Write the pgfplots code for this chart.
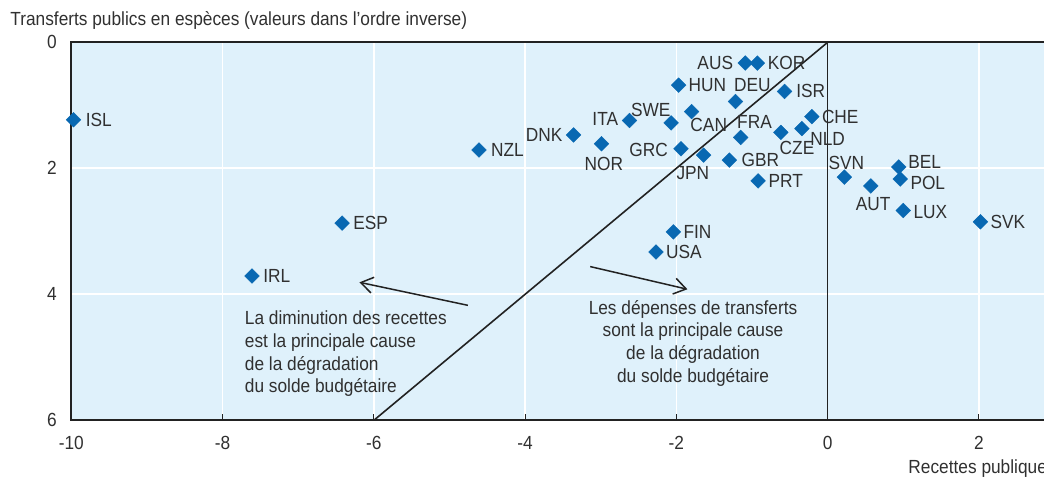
\documentclass[border=0pt]{standalone}
\usepackage{fontspec}
\setmainfont{Liberation Sans}[FakeStretch=0.91]
\usepackage{pgfplots}
\pgfplotsset{compat=1.18}
\usepackage{pgfplotstable}
\usetikzlibrary{arrows.meta}

\definecolor{bgblue}{HTML}{DFF1FB}
\definecolor{oecdblue}{HTML}{0868B2}
\definecolor{txt}{HTML}{303030}
\definecolor{axdark}{HTML}{222222}
\newcommand\lab{\fontsize{9.5}{11.3}\selectfont}

% x = recettes, y = transferts (reversed)
% anc = label anchor angle (180 west, 0 east, 90 north, 270 south), dx dy in pt
\pgfplotstableread{
x y lbl anc dx dy
-9.97 1.23 ISL 180 6 0
-4.61 1.71 NZL 180 6 0
-3.36 1.47 DNK 0 -5.5 0
-2.99 1.61 NOR 90 1.2 -6.5
-2.62 1.24 ITA 0 -5.6 0.8
-2.07 1.28 SWE 270 -10.2 2.8
-1.97 0.68 HUN 180 4.9 0
-1.80 1.10 CAN 90 8.6 -3.1
-1.94 1.69 GRC 0 -6.5 -0.5
-1.64 1.79 JPN 90 -5.4 -5.5
-1.09 0.33 AUS 0 -6 0
-0.93 0.33 KOR 180 5.2 0
-1.22 0.94 DEU 270 8.5 4.8
-1.15 1.51 FRA 270 6.9 4.6
-1.30 1.87 GBR 180 6 0
-0.92 2.20 PRT 180 5.2 0
-0.57 0.78 ISR 180 5.8 0
-0.62 1.43 CZE 90 8.1 -4.5
-0.21 1.18 CHE 180 5 0
-0.34 1.37 NLD 90 12.8 -1.7
0.22 2.14 SVN 270 1 3.6
0.57 2.28 AUT 90 1.2 -5.5
0.94 1.98 BEL 180 4.7 2.3
0.96 2.17 POL 180 5 -2
1.00 2.67 LUX 180 5 -0.8
2.02 2.85 SVK 180 5 0
-6.42 2.87 ESP 180 5.5 0
-7.61 3.71 IRL 180 5.5 0
-2.04 3.01 FIN 180 5 0
-2.27 3.33 USA 180 5 0
}\pts

\begin{document}
\begin{tikzpicture}
\begin{axis}[
  name=ax, scale only axis,
  width=486.35pt, height=189pt,
  xmin=-10, xmax=2.86, ymin=0, ymax=6, y dir=reverse,
  xtick={-10,-8,-6,-4,-2,0,2}, ytick={0,2,4,6},
  grid=major, major grid style={white, line width=0.8pt},
  axis background/.style={fill=bgblue},
  axis line style={draw=none},
  xtick pos=bottom, ytick pos=left,
  xtick align=inside, major tick length=3pt,
  x tick style={draw=axdark, line width=0.5pt},
  y tick style={draw=none},
  tick label style={font=\lab, text=txt},
  xticklabel style={yshift=-4.5pt},
  yticklabel style={xshift=-3.8pt},
  /pgf/number format/assume math mode=true,
  clip=false,
]
\draw[axdark, line width=0.9pt] (rel axis cs:1,0) -- (rel axis cs:0,0) -- (rel axis cs:0,1) -- (rel axis cs:1,1);

\addplot[axdark, line width=0.8pt] coordinates {(-6,6) (0,0)};
\addplot[axdark, line width=0.8pt] coordinates {(0,0) (0,6)};

\addplot[axdark, line width=0.75pt, -{Straight Barb[length=6pt,width=8pt]}] coordinates {(-4.757,4.175) (-6.19,3.81)};
\addplot[axdark, line width=0.75pt, -{Straight Barb[length=6pt,width=8pt]}] coordinates {(-3.14,3.56) (-1.854,3.92)};

\addplot[oecdblue, only marks, mark=square*, mark size=2.6pt,
  mark options={rotate=45, fill=oecdblue, draw=oecdblue, line width=0.2pt},
  point meta=explicit symbolic,
  visualization depends on={\thisrow{anc}\as\labanc},
  visualization depends on={\thisrow{dx}\as\labdx},
  visualization depends on={\thisrow{dy}\as\labdy},
  nodes near coords,
  nodes near coords style={anchor=\labanc, xshift=\labdx pt, yshift=\labdy pt,
    inner sep=0pt, font=\lab, text=txt},
] table[x=x, y=y, meta=lbl] {\pts};

\node[anchor=north west, align=left, font=\lab, text=txt, inner sep=0pt]
  at (axis cs:-7.71,4.26) {La diminution des recettes\\est la principale cause\\de la dégradation\\du solde budgétaire};
\node[anchor=north, align=center, font=\lab, text=txt, inner sep=0pt]
  at (axis cs:-1.78,4.09) {Les dépenses de transferts\\sont la principale cause\\de la dégradation\\du solde budgétaire};
\node[anchor=west, font=\lab, text=txt, inner sep=0pt]
  at ([yshift=-24.35pt]axis cs:1.063,6) {Recettes publiques};
\end{axis}
\node[anchor=west, font=\lab, text=txt, inner sep=0pt]
  at ([shift={(-30.65pt,11.15pt)}]ax.north west) {Transferts publics en espèces (valeurs dans l’ordre inverse)};
\pgfresetboundingbox
\path[use as bounding box] ([shift={(-35.65pt,-28.85pt)}]ax.south west) rectangle ([shift={(0pt,21.15pt)}]ax.north east);
\end{tikzpicture}
\end{document}
